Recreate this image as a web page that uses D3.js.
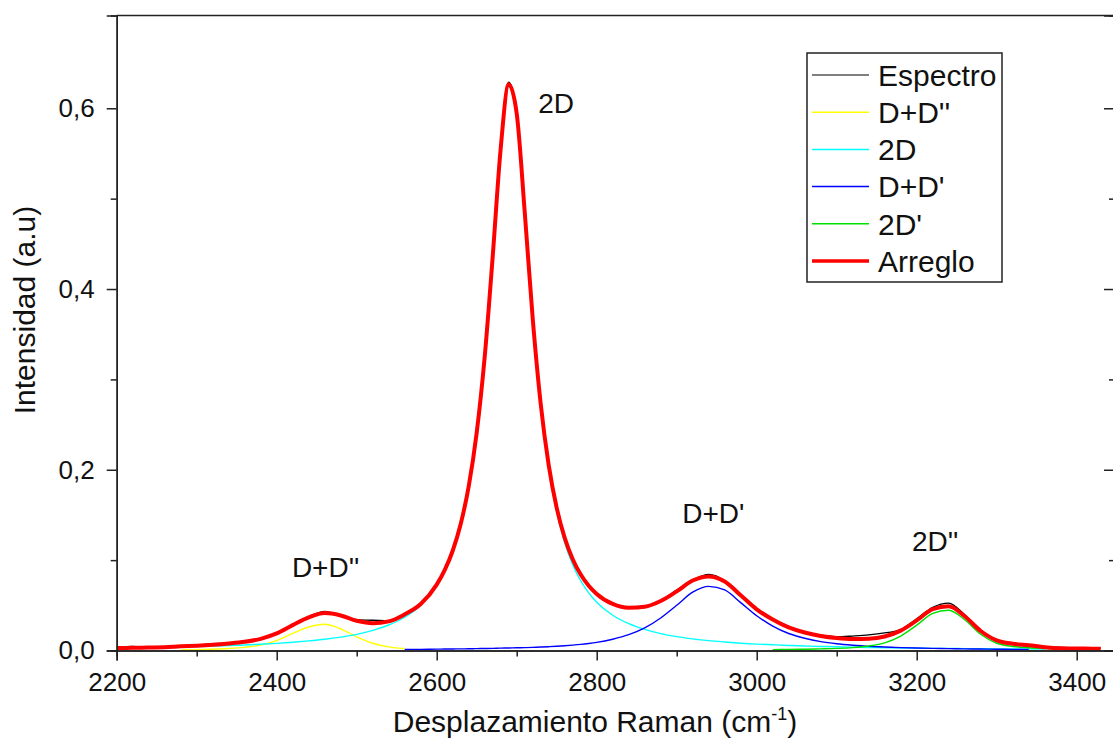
<!DOCTYPE html>
<html><head><meta charset="utf-8">
<script src="https://cdn.jsdelivr.net/npm/d3@7"></script>
<style>body{margin:0;background:#fff}svg{display:block}text{font-family:"Liberation Sans",Arial,sans-serif;fill:#111}</style>
</head><body><svg id="c" width="1113" height="740"></svg>
<script>
// Raman shift grid (cm-1)
const shifts = [2200,2220,2240,2260,2280,2300,2320,2340,2360,2380,2400,2420,2440,2460,2480,2500,2520,2540,2560,2580,2600,
 2610,2620,2630,2640,2650,2660,2670,2680,2690,2700,2710,2720,2730,2740,2750,2760,2770,2780,2790,
 2800,2820,2840,2860,2880,2900,2920,2940,2960,2980,3000,3020,3040,3060,3080,3100,3120,3140,3160,3180,3200,
 3220,3240,3260,3280,3300,3320,3340,3360,3380,3400,3420,3430];
const espectro = [0.0030,0.0045,0.0030,0.0042,0.0038,0.0058,0.0075,0.0080,0.0102,0.0125,0.0196,0.0285,0.0372,0.0432,0.0385,0.0338,0.0335,0.0330,0.0405,0.0510,0.0722,
 0.0880,0.1098,0.1390,0.1825,0.2398,0.3238,0.4362,0.5540,0.6290,0.5950,0.4872,0.3690,0.2745,0.2068,0.1590,0.1250,0.1002,0.0832,0.0708,
 0.0615,0.0508,0.0478,0.0490,0.0552,0.0668,0.0780,0.0842,0.0772,0.0605,0.0448,0.0338,0.0250,0.0195,0.0170,0.0152,0.0160,0.0172,0.0195,0.0232,0.0350,
 0.0478,0.0525,0.0395,0.0220,0.0105,0.0070,0.0048,0.0032,0.0035,0.0028,0.0032,0.0025];
// D+D'' component, starts at 2280
const ddppStart = 2280;
const ddpp = [0.0006,0.0009,0.0014,0.0022,0.0035,0.0060,0.0110,0.0190,0.0260,0.0290,0.0240,0.0150,0.0080,0.0040,0.0020];
// 2D component, starts at 2200
const twoDStart = 2200;
const twoD = [0.0028,0.0030,0.0033,0.0036,0.0040,0.0044,0.0049,0.0055,0.0061,0.0069,0.0079,0.0091,0.0106,0.0124,0.0148,0.0179,0.0222,0.0282,0.0368,0.0501,0.0714,
 0.0873,0.1087,0.1382,0.1797,0.2389,0.3227,0.4335,0.5530,0.6237,0.5913,0.4825,0.3640,0.2691,0.2009,0.1531,0.1193,0.0950,0.0772,0.0638,
 0.0535,0.0390,0.0297,0.0233,0.0187,0.0154,0.0129,0.0109,0.0094,0.0081,0.0071,0.0063,0.0056,0.0050,0.0045,0.0041,0.0037,0.0034,0.0031,0.0028,0.0026,
 0.0024,0.0023,0.0021,0.0020,0.0018,0.0017,0.0016,0.0015];
// D+D' component, starts at 2560
const ddpStart = 2560;
const ddp = [0.0012,0.0013,0.0015,
 0.0016,0.0017,0.0018,0.0019,0.0021,0.0022,0.0024,0.0026,0.0028,0.0030,0.0032,0.0035,0.0038,0.0042,0.0047,0.0053,0.0060,0.0068,0.0078,
 0.0090,0.0125,0.0175,0.0250,0.0360,0.0500,0.0645,0.0710,0.0670,0.0530,0.0385,0.0270,0.0188,0.0135,0.0098,0.0074,0.0058,0.0046,0.0039,0.0032,0.0027,
 0.0024,0.0021,0.0018,0.0016,0.0014,0.0013,0.0012];
// 2D' component, starts at 3020
const twoDpStart = 3020;
const twoDp = [0.0010,0.0012,0.0014,0.0018,0.0023,0.0032,0.0050,0.0085,0.0160,0.0280,0.0410,0.0445,0.0340,0.0180,0.0080,0.0045,0.0030,0.0022,0.0017,0.0014,0.0012];
const arreglo = [0.0028,0.0030,0.0033,0.0036,0.0046,0.0053,0.0063,0.0077,0.0096,0.0129,0.0189,0.0281,0.0366,0.0414,0.0388,0.0329,0.0302,0.0322,0.0400,0.0514,0.0729,
 0.0889,0.1104,0.1400,0.1816,0.2410,0.3249,0.4359,0.5556,0.6265,0.5943,0.4857,0.3675,0.2729,0.2051,0.1578,0.1246,0.1010,0.0840,0.0716,
 0.0625,0.0515,0.0472,0.0483,0.0547,0.0654,0.0774,0.0819,0.0764,0.0611,0.0456,0.0343,0.0256,0.0199,0.0161,0.0138,0.0127,0.0130,0.0155,0.0220,0.0333,
 0.0458,0.0489,0.0379,0.0216,0.0112,0.0075,0.0058,0.0037,0.0025,0.0022,0.0020,0.0019];

const xMajor = [2200,2400,2600,2800,3000,3200,3400];
const xMinor = [2300,2500,2700,2900,3100,3300];
const yMajor = [0,0.2,0.4,0.6];
const yMinor = [0.1,0.3,0.5];
const legendNames = ["Espectro","D+D''","2D","D+D'","2D'","Arreglo"];
const colors = ["#000000","#ffff00","#00ffff","#0000ff","#00e000","#ff0000"];
const annotations = [
  {text:"2D", x:2727, y:0.595},
  {text:"D+D''", x:2419, y:0.081},
  {text:"D+D'", x:2907, y:0.141},
  {text:"2D''", x:3194, y:0.110}
];

const svg = d3.select("#c");
const L = 116.7, R = 1114, T = 15.5, B = 650.5;
const x = d3.scaleLinear().domain([2200, 2200 + (R - L) / 0.8]).range([L, R]);
const y = d3.scaleLinear().domain([0, (B - T) / 903.7]).range([B, T]);

svg.append("defs").append("clipPath").attr("id","clip").append("rect")
  .attr("x",L).attr("y",T).attr("width",R-L).attr("height",B-T+2);

function seriesFrom(start, vals){
  const i0 = shifts.indexOf(start);
  return vals.map((v,i)=>({s:shifts[i0+i], v}));
}
const line = d3.line().x(d=>x(d.s)).y(d=>y(d.v)).curve(d3.curveMonotoneX);
const g = svg.append("g").attr("clip-path","url(#clip)");
const series = [
  {name:"Espectro", data:seriesFrom(2200, espectro), color:colors[0], w:1.3},
  {name:"D+D''", data:seriesFrom(ddppStart, ddpp), color:colors[1], w:1.4},
  {name:"2D", data:seriesFrom(twoDStart, twoD), color:colors[2], w:1.4},
  {name:"D+D'", data:seriesFrom(ddpStart, ddp), color:colors[3], w:1.4},
  {name:"2D'", data:seriesFrom(twoDpStart, twoDp), color:colors[4], w:1.4},
  {name:"Arreglo", data:seriesFrom(2200, arreglo), color:colors[5], w:4}
];
series.forEach(s=>{
  g.append("path").datum(s.data).attr("d",line).attr("fill","none")
   .attr("stroke",s.color).attr("stroke-width",s.w).attr("stroke-linejoin","round");
});

// frame
const axisColor = "#222";
svg.append("line").attr("x1",L).attr("x2",1113).attr("y1",T).attr("y2",T).attr("stroke",axisColor).attr("stroke-width",1.5);
svg.append("line").attr("x1",R).attr("x2",R).attr("y1",T).attr("y2",B).attr("stroke",axisColor).attr("stroke-width",1.5);

// axes
const fmtY = d => d3.format(".1f")(d).replace(".",",");
svg.append("g").attr("transform",`translate(0,${B})`)
  .call(d3.axisBottom(x).tickValues(xMajor).tickSize(10).tickPadding(12).tickFormat(d3.format("d")));
svg.append("g").attr("transform",`translate(0,${B})`)
  .call(d3.axisBottom(x).tickValues(xMinor).tickSize(6).tickFormat(""));
svg.append("g").attr("transform",`translate(${L},0)`)
  .call(d3.axisLeft(y).tickValues(yMajor).tickSize(10).tickPadding(12).tickFormat(fmtY));
svg.append("g").attr("transform",`translate(${L},0)`)
  .call(d3.axisLeft(y).tickValues(yMinor).tickSize(6).tickFormat(""));
svg.append("g").attr("transform",`translate(${R},0)`)
  .call(d3.axisRight(y).tickValues(yMajor).tickSize(-10).tickFormat(""));
svg.append("g").attr("transform",`translate(${R},0)`)
  .call(d3.axisRight(y).tickValues(yMinor).tickSize(-5).tickFormat(""));
svg.selectAll(".domain").attr("stroke",axisColor).attr("stroke-width",1.5);
svg.selectAll(".tick line").attr("stroke",axisColor).attr("stroke-width",1.5);
svg.selectAll(".tick text").style("font-size","26px").style("font-family","'Liberation Sans',Arial,sans-serif").attr("fill","#111");

// axis titles
const xt = svg.append("text").attr("x",595).attr("y",732).attr("text-anchor","middle").style("font-size","30px");
xt.append("tspan").text("Desplazamiento Raman (cm");
xt.append("tspan").attr("dy",-12).style("font-size","18px").text("-1");
xt.append("tspan").attr("dy",12).text(")");
svg.append("text").attr("transform","translate(35,310) rotate(-90)").attr("text-anchor","middle")
  .style("font-size","30px").text("Intensidad (a.u)");

// annotations
annotations.forEach(a=>{
  svg.append("text").attr("x",x(a.x)).attr("y",y(a.y)).style("font-size","28px").text(a.text);
});

// legend
const lg = svg.append("g");
lg.append("rect").attr("x",807).attr("y",53).attr("width",195).attr("height",229)
  .attr("fill","#fff").attr("stroke",axisColor).attr("stroke-width",1.5);
const rowY = d3.scalePoint().domain(legendNames).range([75,261]);
series.forEach((s,i)=>{
  const yy = rowY(s.name);
  lg.append("line").attr("x1",812).attr("x2",869).attr("y1",yy).attr("y2",yy)
    .attr("stroke",s.color).attr("stroke-width", s.name==="Arreglo"?3.5:(s.name==="Espectro"?1:1.5));
  lg.append("text").attr("x",878).attr("y",yy).attr("dy","0.36em").style("font-size","30px").text(s.name);
});
</script></body></html>
